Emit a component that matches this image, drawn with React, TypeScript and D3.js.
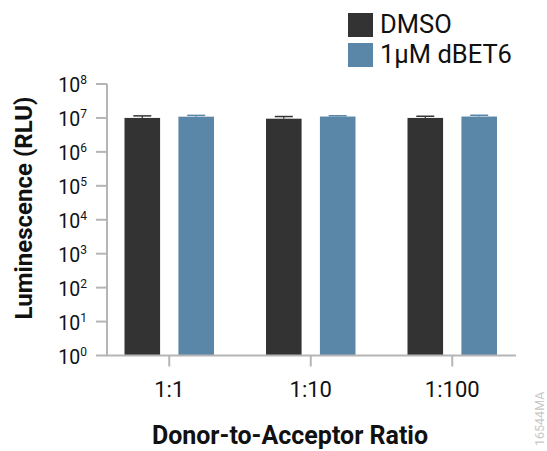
import React, { useRef, useEffect } from "react";
import * as d3 from "d3";

const ratios = ["1:1", "1:10", "1:100"];
const series = ["DMSO", "1μM dBET6"];
const colors = ["#333333", "#5a86a7"];
const means = [
  [1.0e7, 0.95e7, 1.0e7],
  [1.09e7, 1.1e7, 1.1e7],
];
const errors = [
  [0.15e7, 0.15e7, 0.12e7],
  [0.1e7, 0.06e7, 0.1e7],
];
const exponents = [0, 1, 2, 3, 4, 5, 6, 7, 8];

const W = 547;
const H = 451;
const FONT = "Roboto, 'Noto Sans', sans-serif";

const App = () => {
  const svgRef = useRef<SVGSVGElement>(null);

  useEffect(() => {
    const svg = d3.select(svgRef.current);
    svg.selectAll("*").remove();

    const y = d3.scaleLog().domain([1, 1e8]).range([355.5, 84]);
    const x0 = d3.scaleBand().domain(ratios).range([98.5, 523]).paddingInner(0);
    const x1 = d3
      .scaleBand()
      .domain(series)
      .range([26, x0.bandwidth() - 26])
      .paddingInner(0.34);

    const axisColor = "#b5b5b5";
    const g = svg.append("g");

    // bars
    series.forEach((s, si) => {
      ratios.forEach((r, ri) => {
        const bx = x0(r)! + x1(s)!;
        const bw = x1.bandwidth();
        const v = means[si][ri];
        const e = errors[si][ri];
        const cx = bx + bw / 2;
        g.append("rect")
          .attr("x", bx)
          .attr("y", y(v))
          .attr("width", bw)
          .attr("height", y(1) - y(v))
          .attr("fill", colors[si]);
        g.append("line")
          .attr("x1", cx)
          .attr("x2", cx)
          .attr("y1", y(v))
          .attr("y2", y(v + e))
          .attr("stroke", colors[si])
          .attr("stroke-width", 1.2);
        g.append("line")
          .attr("x1", cx - 9)
          .attr("x2", cx + 9)
          .attr("y1", y(v + e))
          .attr("y2", y(v + e))
          .attr("stroke", colors[si])
          .attr("stroke-width", 1.5);
      });
    });

    // y axis
    const yAxis = g.append("g");
    yAxis
      .append("line")
      .attr("x1", 107)
      .attr("x2", 107)
      .attr("y1", y(1e8))
      .attr("y2", y(1))
      .attr("stroke", axisColor)
      .attr("stroke-width", 2);
    exponents.forEach((p) => {
      const ty = y(Math.pow(10, p));
      yAxis
        .append("line")
        .attr("x1", 96)
        .attr("x2", 107)
        .attr("y1", ty)
        .attr("y2", ty)
        .attr("stroke", axisColor)
        .attr("stroke-width", 2);
      const t = yAxis
        .append("text")
        .attr("x", 87)
        .attr("y", ty + 8)
        .attr("text-anchor", "end")
        .style("font-family", FONT)
        .style("font-size", "19.5px")
        .attr("fill", "#111");
      t.append("tspan").text("10");
      t.append("tspan")
        .attr("dy", -8)
        .style("font-size", "12px")
        .text(String(p));
    });

    // x axis
    const xAxis = g.append("g");
    xAxis
      .append("line")
      .attr("x1", 106)
      .attr("x2", 516)
      .attr("y1", y(1))
      .attr("y2", y(1))
      .attr("stroke", axisColor)
      .attr("stroke-width", 2);
    ratios.forEach((r) => {
      const tx = x0(r)! + x0.bandwidth() / 2;
      xAxis
        .append("line")
        .attr("x1", tx)
        .attr("x2", tx)
        .attr("y1", y(1))
        .attr("y2", y(1) + 11)
        .attr("stroke", axisColor)
        .attr("stroke-width", 2);
      xAxis
        .append("text")
        .attr("x", tx)
        .attr("y", 397)
        .attr("text-anchor", "middle")
        .style("font-family", FONT)
        .style("font-size", "22px")
        .attr("fill", "#111")
        .text(r);
    });

    // axis titles
    g.append("text")
      .attr("x", 290)
      .attr("y", 444)
      .attr("text-anchor", "middle")
      .style("font-family", FONT)
      .style("font-size", "25px")
      .style("font-weight", "bold")
      .attr("fill", "#111")
      .text("Donor-to-Acceptor Ratio");
    g.append("text")
      .attr("transform", "translate(32,208) rotate(-90)")
      .attr("text-anchor", "middle")
      .style("font-family", FONT)
      .style("font-size", "24px")
      .style("font-weight", "bold")
      .attr("fill", "#111")
      .text("Luminescence (RLU)");

    // legend
    const legend = g.append("g").attr("transform", "translate(348,13)");
    series.forEach((s, i) => {
      legend
        .append("rect")
        .attr("x", 0)
        .attr("y", i * 30)
        .attr("width", 25)
        .attr("height", 24)
        .attr("fill", colors[i]);
      legend
        .append("text")
        .attr("x", 32)
        .attr("y", i * 30 + 20)
        .style("font-family", FONT)
        .style("font-size", "25.5px")
        .attr("fill", "#111")
        .text(s);
    });

    // watermark
    g.append("text")
      .attr("transform", "translate(544,446) rotate(-90)")
      .style("font-family", FONT)
      .style("font-size", "12.5px")
      .attr("fill", "#c8c8c8")
      .text("16544MA");
  }, []);

  return (
    <svg
      ref={svgRef}
      width={W}
      height={H}
      style={{ position: "absolute", left: 0, top: 0 }}
    ></svg>
  );
};

export default App;
